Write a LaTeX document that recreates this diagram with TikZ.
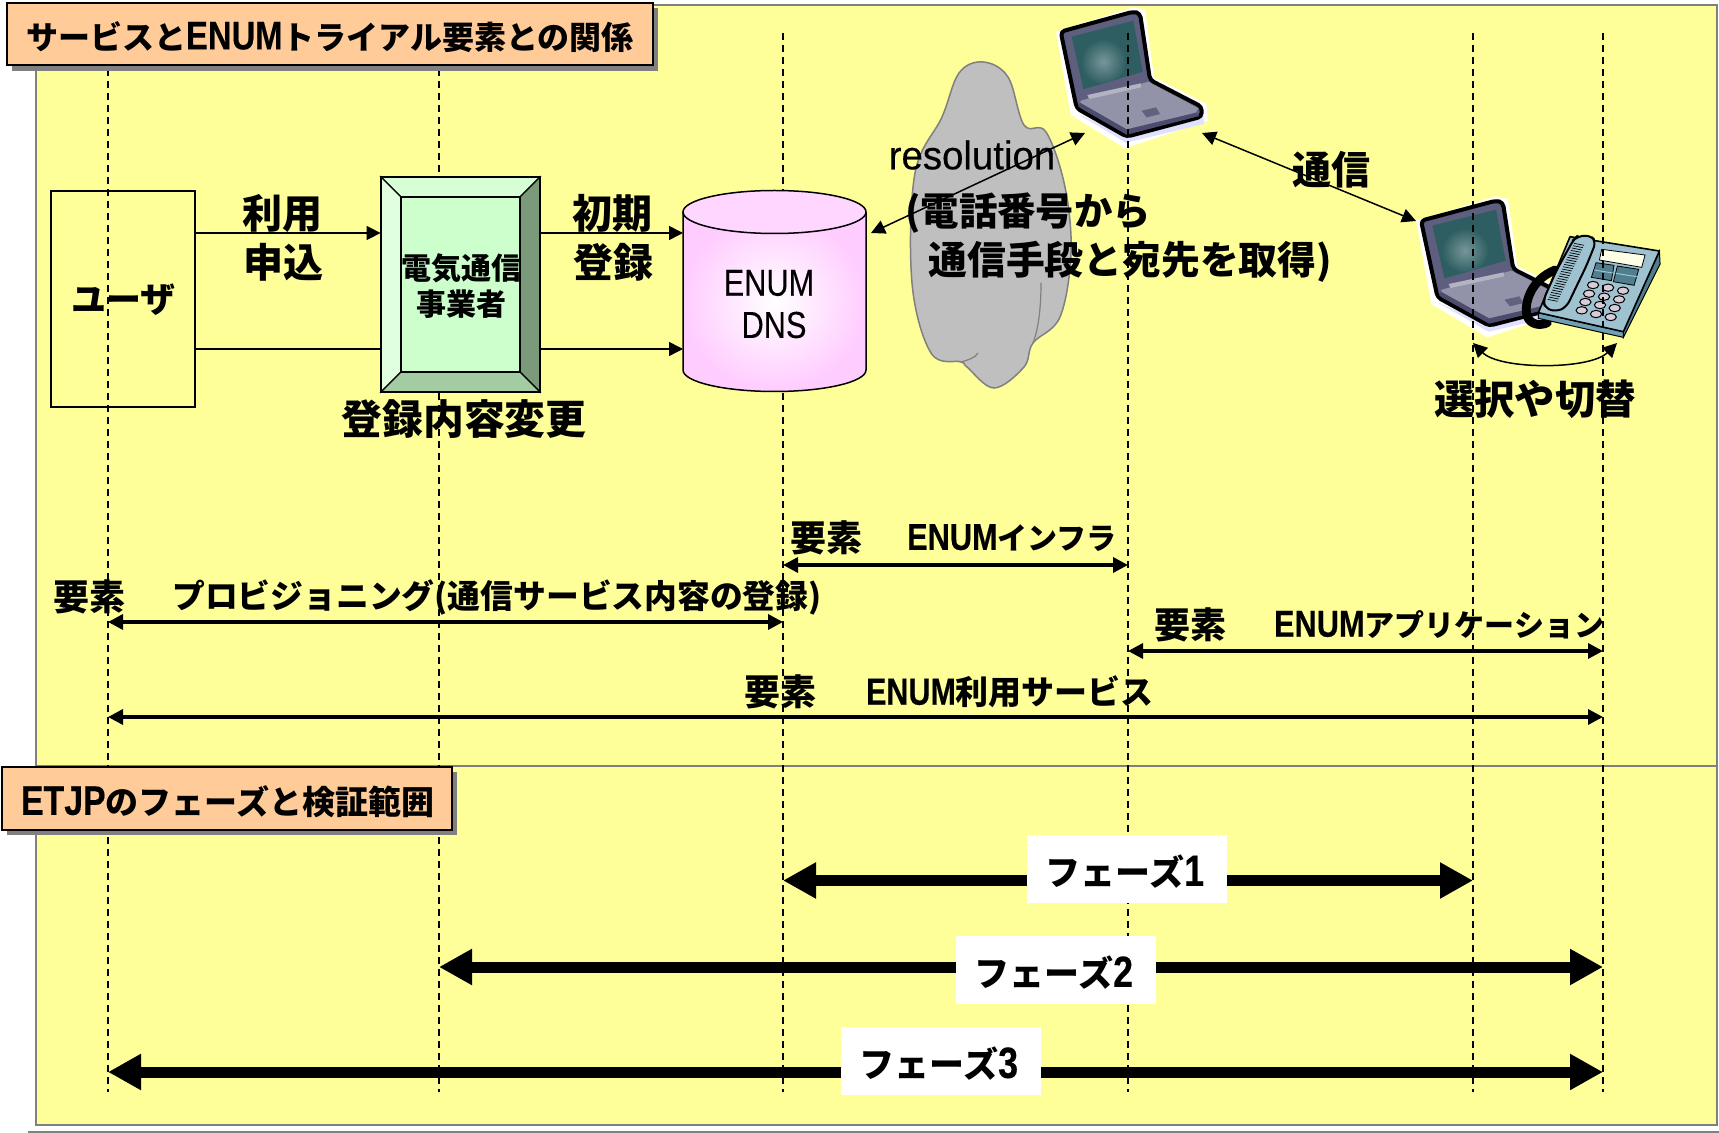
\documentclass[tikz,border=0pt]{standalone}
\usepackage{graphicx}
\usepackage{fontspec}
\usetikzlibrary{arrows.meta}
\newfontfamily\jp{Noto Sans CJK JP}
\newfontfamily\latf[Scale=1.25,FakeBold=0.35]{Liberation Sans}
\newfontfamily\latr[Scale=1.25,FakeBold=0.2]{Liberation Sans}
\newcommand{\En}[1]{\scalebox{.82}[1]{\latf #1}}
\newcommand{\Enn}[1]{\scalebox{.74}[.92]{\latf #1}}
\newcommand{\Enr}[1]{\scalebox{.82}[1]{\latr #1}}
\definecolor{panelY}{HTML}{FFFF99}
\definecolor{peach}{HTML}{FFCC99}
\definecolor{bevF}{HTML}{CCFFCC}
\definecolor{bevT}{HTML}{D6FFD6}
\definecolor{bevL}{HTML}{E0FFE0}
\definecolor{bevR}{HTML}{7A9A7A}
\definecolor{bevB}{HTML}{A3CCA3}
\definecolor{pinkC}{HTML}{FFCCFF}
\definecolor{pinkT}{HTML}{FFD6FF}
\definecolor{frameC}{HTML}{5E5E7E}
\definecolor{baseC}{HTML}{9292A8}
\definecolor{frontC}{HTML}{4C4C6E}
\definecolor{screenC}{HTML}{2E5E62}
\definecolor{phoneT}{HTML}{9FC2D0}
\definecolor{phoneS}{HTML}{4F7F8F}
\definecolor{phoneF}{HTML}{6FA0B4}
\definecolor{keyC}{HTML}{D8CCD8}
\tikzset{
  lbl/.style={font=\jp\bfseries\fontsize{#1}{#1}\selectfont, inner sep=0pt, text=black},
  conn/.style={line width=.75pt, -{Triangle[length=7pt,width=7pt]}},
  plain/.style={line width=.75pt},
  dbl/.style={line width=.75pt, {Triangle[length=7pt,width=7pt]}-{Triangle[length=7pt,width=7pt]}},
  span/.style={line width=1.7pt, {Triangle[length=7.5pt,width=7.5pt]}-{Triangle[length=7.5pt,width=7.5pt]}},
  phase/.style={line width=5.5pt, {Triangle[length=16.5pt,width=17pt]}-{Triangle[length=16.5pt,width=17pt]}},
  life/.style={line width=.65pt, dash pattern=on 3.5pt off 2.5pt},
  phasebox/.style={fill=white, inner sep=0pt, minimum width=100pt, minimum height=34pt},
  panel/.style={fill=panelY, draw=gray, line width=1pt},
  titlebox/.style={fill=peach, draw=black, line width=1pt, inner sep=0pt},
  bevelline/.style={draw=black, line width=.6pt}
}
\newcommand{\laptopdraw}{%
  \fill[white] (18,95)--(250,22)--(285,30)--(312,232)--(470,312)--(472,362)--(225,445)--(62,345)--cycle;
  \fill[blue!12!white] (80,340)--(228,428)--(462,372)--(460,345)--(230,408)--cycle;
  \draw[fill=frameC, draw=black, line width=2pt, line join=round, rounded corners=2pt]
    (32,95)--(250,35)--(270,40)--(300,240)--(455,320)--(455,350)--(230,410)--(80,325)--cycle;
  \begin{scope}
    \clip (65,110)--(250,62)--(278,215)--(100,268)--cycle;
    \fill[screenC] (40,40) rectangle (300,300);
    \shade[inner color=screenC!65!white, outer color=screenC] (160,185) circle (68);
  \end{scope}
  \fill[baseC] (92,302)--(295,245)--(445,325)--(436,340)--(230,390)--(90,312)--cycle;
  \fill[frontC] (85,320)--(230,404)--(448,348)--(438,338)--(230,388)--(90,308)--cycle;
  \fill[baseC!70!white] (112,285)--(272,250)--(274,262)--(118,297)--cycle;
  \fill[frontC!70!baseC] (275,332)--(318,322)--(330,342)--(290,352)--cycle;
}
\begin{document}
\begin{tikzpicture}[x=.5pt,y=-.5pt]
\useasboundingbox (0,0) rectangle (1719,1133);
\fill[white] (0,0) rectangle (1719,1133);
% lifeline positions and levels
\foreach \n/\xx in {l1/108,l2/439,l3/783,l4/1128,l5/1473,l6/1603}{
  \coordinate (\n t) at (\xx,33);
  \coordinate (\n b) at (\xx,1092);
}
\coordinate (yA) at (0,233);
\coordinate (yB) at (0,349);
\coordinate (y1) at (0,565);
\coordinate (y2) at (0,622);
\coordinate (y3) at (0,651);
\coordinate (y4) at (0,717);
\coordinate (p1) at (0,880.5);
\coordinate (p2) at (0,967);
\coordinate (p3) at (0,1072);
% panels
\draw[panel] (36,5) rectangle (1717,766);
\draw[panel] (36,766) rectangle (1717,1125);
\coordinate (rulea) at (28,1132);
\coordinate (ruleb) at (1719,1132);
\draw[gray, line width=1pt] (rulea) -- (ruleb);
% laptops and phone
\begin{scope}[shift={(1050,0)},x=.1667pt,y=-.1667pt]
  \laptopdraw
\end{scope}
\begin{scope}[shift={(1410,189)},x=.172pt,y=-.1667pt]
  \laptopdraw
\end{scope}
\begin{scope}[shift={(1410,190)},x=.1667pt,y=-.1667pt]
  \draw[black, line width=4.4pt, line cap=round] (435,240) .. controls (360,270) and (340,345) .. (352,380) .. controls (362,405) and (392,408) .. (412,398);
  \draw[fill=phoneS, draw=black, line width=.5pt] (640,425)--(748,183)--(750,222)--(640,442)--cycle;
  \draw[fill=phoneF, draw=black, line width=.5pt] (385,368)--(640,425)--(640,442)--(385,385)--cycle;
  \draw[fill=phoneT, draw=black, line width=.8pt, line join=round] (480,140)--(748,183)--(640,425)--(385,368)--cycle;
  \draw[fill=yellow!10!white, draw=black, line width=.4pt] (575,178)--(705,195)--(695,232)--(568,210)--cycle;
  \draw[fill=phoneS, draw=black, line width=.4pt] (558,218)--(612,226)--(604,272)--(544,262)--cycle;
  \draw[fill=phoneS, draw=black, line width=.4pt] (622,228)--(686,238)--(672,286)--(610,275)--cycle;
  \draw[phoneT, line width=.5pt] (553,240)--(608,249) (617,250)--(680,260);
  \foreach \kx/\ky in {549/285,594/293,639/302,537/311,582/320,627/328,526/336,570/345,614/354,515/361,558/372,602/381}{
    \draw[fill=keyC, draw=black, line width=.5pt] (\kx,\ky) ellipse (17 and 11);
  }
  \draw[fill=phoneT, draw=black, line width=1pt, line join=round, rounded corners=3pt]
    (500,140)--(540,135)--(558,155)--(530,225)--(470,350)--(440,365)--(405,355)--(400,330)--(440,240)--(490,150)--cycle;
  \foreach \t in {0,...,24}{
    \draw[black, line width=.35pt] ({492-3.3*\t},{160+7*\t}) -- ++(30,6);
  }
\end{scope}
% lifelines
\foreach \n in {l1,l2,l3,l4,l5,l6}{ \draw[life] (\n t) -- (\n b); }
% title boxes
\fill[gray] (12,8) rectangle (658,71);
\node[titlebox, minimum width=323pt, minimum height=31pt] (title1) at (330,34) {};
\node[lbl=16] (title1t) at (330,37) {サービスと\En{ENUM}トライアル要素との関係};
\fill[gray] (7,772) rectangle (457,835);
\node[titlebox, minimum width=225pt, minimum height=31.5pt] (title2) at (227,798.5) {};
\node[lbl=16.5] (title2t) at (227.5,802) {\En{ETJP}のフェーズと検証範囲};
% user box
\node[draw=black, line width=.75pt, minimum width=72pt, minimum height=108pt, inner sep=0pt] (user) at (123,299) {};
\node[lbl=17.5] (usert) at (123.5,300) {ユーザ};
% carrier (bevel)
\node[inner sep=0pt, minimum width=79.5pt, minimum height=107.5pt] (carrier) at (460.5,284.5) {};
\path[bevelline, fill=bevT] (381,177)--(540,177)--(520,197)--(401,197)--cycle;
\path[bevelline, fill=bevL] (381,177)--(401,197)--(401,372)--(381,392)--cycle;
\path[bevelline, fill=bevR] (540,177)--(520,197)--(520,372)--(540,392)--cycle;
\path[bevelline, fill=bevB] (381,392)--(401,372)--(520,372)--(540,392)--cycle;
\path[bevelline, fill=bevF] (401,197) rectangle (520,372);
\draw[black, line width=.9pt] (381,177) rectangle (540,392);
\node[lbl=15] (carriert1) at (461,268) {電気通信};
\node[lbl=15] (carriert2) at (461,304) {事業者};
% cylinder
\coordinate (dbw) at (683,300);
\coordinate (dbe) at (866,233);
\shade[inner color=white, outer color=pinkC]
  (683,212) -- (683,370) arc[start angle=180,end angle=360,x radius=91.5,y radius=-21.5] -- (866,212) -- cycle;
\fill[pinkT] (774.5,212) ellipse (91.5 and 21.5);
\draw[black, line width=.75pt] (774.5,212) ellipse (91.5 and 21.5);
\draw[black, line width=.75pt] (683,212) -- (683,370) arc[start angle=180,end angle=360,x radius=91.5,y radius=-21.5] -- (866,212);
\node[font=\fontsize{15}{15}\selectfont, inner sep=0pt] (dbt1) at (769,283) {\Enr{ENUM}};
\node[font=\fontsize{15}{15}\selectfont, inner sep=0pt] (dbt2) at (774,325) {\Enr{DNS}};
% cloud
\draw[fill=gray!50!white, draw=gray, line width=.75pt]
  plot[smooth cycle, tension=.6] coordinates {(983,62) (1008,77) (1024,125) (1046,132) (1065,187) (1071,253) (1060,317) (1033,343) (1024,367) (994,388) (967,367) (961,362) (931,353) (912,283) (915,173) (942,117) (959,73)};
\draw[gray, line width=.6pt] (1041,283) .. controls (1041,310) and (1038,330) .. (1033,343);
\draw[gray, line width=.6pt] (978,353) .. controls (975,358) and (968,360) .. (961,362);
% connectors
\draw[conn] (user.east |- yA) -- (carrier.west |- yA);
\draw[plain] (user.east |- yB) -- (carrier.west |- yB);
\draw[conn] (carrier.east |- yA) -- (dbw |- yA);
\draw[conn] (carrier.east |- yB) -- (dbw |- yB);
\coordinate (lap1r) at (1085,133);
\coordinate (lap1c) at (1202,133);
\coordinate (lap2) at (1416,221);
\draw[dbl] (dbe) ++(5,0) -- (lap1r);
\draw[dbl] (lap1c) -- (lap2);
\coordinate (selA) at (1473,343);
\coordinate (selB) at (1617,343);
\draw[dbl] (selA) .. controls (1500,370) and (1590,370) .. (selB);
% labels top
\node[lbl=20] (riyou) at (282,213) {利用};
\node[lbl=20] (moushi) at (283,262) {申込};
\node[lbl=20] (shoki) at (612,213) {初期};
\node[lbl=20] (touroku) at (613,262) {登録};
\node[lbl=20.4] (henkou) at (464,419) {登録内容変更};
\node[font=\fontsize{16}{16}\selectfont, inner sep=0pt] (resol) at (972,155) {\scalebox{.96}[1]{\latf resolution}};
\node[lbl=19.2, anchor=west] (tel1) at (905,213) {(電話番号から};
\node[lbl=19.4, anchor=west] (tel2) at (928,262) {通信手段と宛先を取得)};
\node[lbl=19.5] (tsuushin) at (1331,170) {通信};
\node[lbl=20.2] (sentaku) at (1535,399) {選択や切替};
% element labels and spans
\node[lbl=18] (y1a) at (826,538) {要素};
\node[lbl=15] (y1b) at (1012,538) {\En{ENUM}インフラ};
\draw[span] (l3t |- y1) -- (l4t |- y1);
\node[lbl=18] (y2a) at (90,597) {要素};
\node[lbl=16.4] (y2b) at (497,597) {プロビジョニング(通信サービス内容の登録)};
\draw[span] (l1t |- y2) -- (l3t |- y2);
\node[lbl=18] (y3a) at (1190,625) {要素};
\node[lbl=15] (y3b) at (1439,625) {\En{ENUM}アプリケーション};
\draw[span] (l4t |- y3) -- (l6t |- y3);
\node[lbl=18] (y4a) at (780,692) {要素};
\node[lbl=16.5] (y4b) at (1010,692) {\Enn{ENUM}利用サービス};
\draw[span] (l1t |- y4) -- (l6t |- y4);
% phases
\draw[phase] (l3t |- p1) -- (l5t |- p1);
\draw[phase] (l2t |- p2) -- (l6t |- p2);
\draw[phase] (l1t |- p3) -- (l6t |- p3);
\node[phasebox] (f1box) at (1127,869) {};
\node[phasebox] (f2box) at (1056,970) {};
\node[phasebox] (f3box) at (941,1061) {};
\node[lbl=17.5] (f1) at (1125,872) {フェーズ\En{1}};
\node[lbl=17.5] (f2) at (1054,973) {フェーズ\En{2}};
\node[lbl=17.5] (f3) at (939,1064) {フェーズ\En{3}};
\end{tikzpicture}
\end{document}
